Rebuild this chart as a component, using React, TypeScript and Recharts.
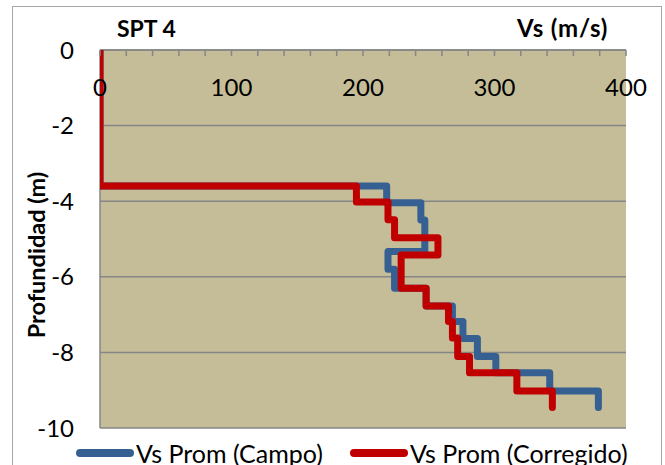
import React from "react";
import {
  ScatterChart,
  Scatter,
  XAxis,
  YAxis,
  CartesianGrid,
  Legend,
} from "recharts";

// layer tops (m) and Vs (m/s) per layer
const campoTops = [0, 3.6, 4.04, 4.5, 5.33, 5.8, 6.3, 6.77, 7.18, 7.63, 8.11, 8.54, 9.02];
const campoVs = [0, 218, 244, 247, 219, 224, 248, 268, 276, 287, 301, 342, 379];
const campoBottom = 9.46;

const corrTops = [0, 3.6, 4.02, 4.49, 4.97, 5.42, 6.3, 6.77, 7.18, 7.62, 8.11, 8.54, 9.02];
const corrVs = [0, 195, 219, 224, 257, 229, 248, 265, 268, 272, 281, 317, 344];
const corrBottom = 9.46;

const xTicks = [0, 20, 40, 60, 80, 100, 120, 140, 160, 180, 200, 220, 240, 260, 280, 300, 320, 340, 360, 380, 400];
const yTicks = [-10, -8, -6, -4, -2, 0];

const FONT = "Lato, 'Open Sans', sans-serif";
const GRID = "#868686";

// turn layers into a step profile (two points per layer)
function steps(tops: number[], vs: number[], bottom: number) {
  const pts: { vs: number; depth: number }[] = [];
  tops.forEach((top, i) => {
    const end = i < tops.length - 1 ? tops[i + 1] : bottom;
    pts.push({ vs: vs[i], depth: -top });
    pts.push({ vs: vs[i], depth: -end });
  });
  return pts;
}

const campo = steps(campoTops, campoVs, campoBottom);
const corregido = steps(corrTops, corrVs, corrBottom);

const XTick = (props: any) => {
  const { x, y, payload } = props;
  return (
    <g>
      <line x1={x} x2={x} y1={y} y2={y + 6} stroke={GRID} strokeWidth={1.5} />
      {payload.value % 100 === 0 && (
        <text
          x={x}
          y={y + 36}
          textAnchor="middle"
          dominantBaseline="central"
          fontSize={24}
          fontFamily={FONT}
          fill="#000"
        >
          {payload.value}
        </text>
      )}
    </g>
  );
};

const renderLegend = (props: any) => (
  <div style={{ display: "flex", alignItems: "center", fontFamily: FONT, fontSize: 25, color: "#000" }}>
    {(props.payload || []).map((entry: any) => (
      <div key={entry.value} style={{ display: "flex", alignItems: "center", marginRight: 26 }}>
        <svg width={60} height={12}>
          <line x1={5} x2={55} y1={6} y2={6} stroke={entry.color} strokeWidth={8} strokeLinecap="round" />
        </svg>
        <span style={{ marginLeft: 1, whiteSpace: "nowrap" }}>{entry.value}</span>
      </div>
    ))}
  </div>
);

export default function App() {
  return (
    <div
      style={{
        position: "absolute",
        left: 0,
        top: 0,
        width: 665,
        height: 465,
        overflow: "hidden",
        background: "#fff",
      }}
    >
      <div
        style={{
          position: "absolute",
          left: 12,
          top: 6,
          width: 648,
          height: 480,
          border: "1.5px solid #A6A6A6",
        }}
      />
      <div
        style={{
          position: "absolute",
          left: 117,
          top: 14,
          fontFamily: FONT,
          fontWeight: 700,
          fontSize: 23,
        }}
      >
        SPT 4
      </div>
      <div
        style={{
          position: "absolute",
          left: 517,
          top: 13,
          fontFamily: FONT,
          fontWeight: 700,
          fontSize: 24,
          letterSpacing: 0.8,
        }}
      >
        Vs (m/s)
      </div>
      <div style={{ position: "absolute", left: 0, top: 0 }}>
        <ScatterChart width={665} height={465} margin={{ top: 20, right: 39, bottom: 37, left: 0 }}>
          <CartesianGrid vertical={false} stroke={GRID} strokeWidth={1.5} fill="#C4BD97" fillOpacity={1} />
          <XAxis
            type="number"
            dataKey="vs"
            orientation="top"
            domain={[0, 400]}
            ticks={xTicks}
            interval={0}
            height={30}
            tickSize={0}
            tickMargin={0}
            tickLine={false}
            allowDataOverflow
            axisLine={{ stroke: GRID, strokeWidth: 1.5 }}
            tick={<XTick />}
          />
          <YAxis
            type="number"
            dataKey="depth"
            domain={[-10, 0]}
            ticks={yTicks}
            interval={0}
            width={100}
            tickSize={0}
            tickMargin={26}
            tickLine={false}
            allowDataOverflow
            axisLine={{ stroke: GRID, strokeWidth: 1.5 }}
            tick={{ fill: "#000", fontSize: 24, fontFamily: FONT }}
            label={{
              content: (p: any) => {
                const vb = p.viewBox || { x: 0, y: 0, height: 0 };
                const cx = vb.x + 36;
                const cy = vb.y + vb.height / 2 + 16;
                return (
                  <text
                    x={cx}
                    y={cy}
                    transform={`rotate(-90, ${cx}, ${cy})`}
                    textAnchor="middle"
                    dominantBaseline="central"
                    fontFamily={FONT}
                    fontWeight={700}
                    fontSize={23.5}
                    fill="#000"
                  >
                    Profundidad (m)
                  </text>
                );
              },
            }}
          />
          <Legend
            verticalAlign="middle"
            align="center"
            layout="horizontal"
            content={renderLegend}
            wrapperStyle={{ top: 438, left: 75, width: "auto" }}
          />
          <Scatter
            name="Vs Prom (Campo)"
            data={campo}
            fill="#376092"
            line={{ stroke: "#376092", strokeWidth: 7, strokeLinejoin: "round", strokeLinecap: "round" }}
            shape={() => <g />}
            isAnimationActive={false}
          />
          <Scatter
            name="Vs Prom (Corregido)"
            data={corregido}
            fill="#C00000"
            line={{ stroke: "#C00000", strokeWidth: 7, strokeLinejoin: "round", strokeLinecap: "round" }}
            shape={() => <g />}
            isAnimationActive={false}
          />
        </ScatterChart>
      </div>
    </div>
  );
}
